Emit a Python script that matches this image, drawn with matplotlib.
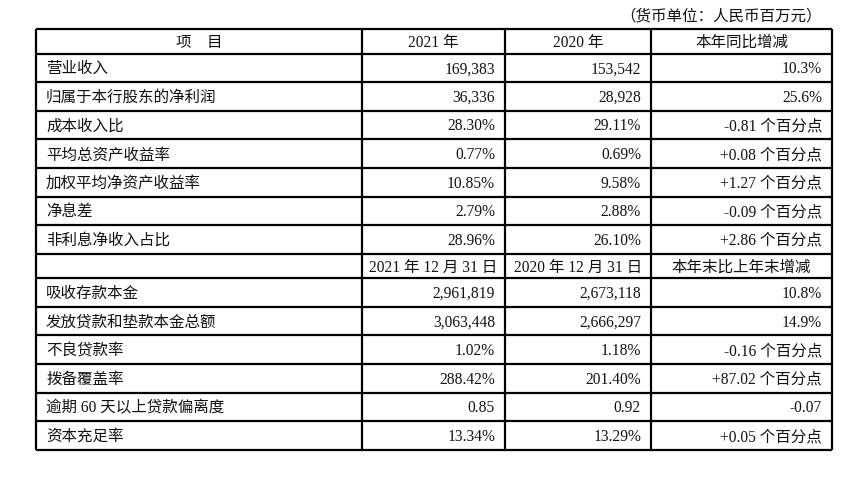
import matplotlib.pyplot as plt

plt.rcParams['font.family'] = ['Liberation Serif', 'Noto Sans CJK SC']

unit_note = '（货币单位：人民币百万元）'
header_1 = ['项　目', '2021 年', '2020 年', '本年同比增减']
items_1 = ['营业收入', '归属于本行股东的净利润', '成本收入比', '平均总资产收益率',
           '加权平均净资产收益率', '净息差', '非利息净收入占比']
val_2021_1 = ['169,383', '36,336', '28.30%', '0.77%', '10.85%', '2.79%', '28.96%']
val_2020_1 = ['153,542', '28,928', '29.11%', '0.69%', '9.58%', '2.88%', '26.10%']
change_1 = ['10.3%', '25.6%', '-0.81 个百分点', '+0.08 个百分点', '+1.27 个百分点',
            '-0.09 个百分点', '+2.86 个百分点']

header_2 = ['', '2021 年 12 月 31 日', '2020 年 12 月 31 日', '本年末比上年末增减']
items_2 = ['吸收存款本金', '发放贷款和垫款本金总额', '不良贷款率', '拨备覆盖率',
           '逾期 60 天以上贷款偏离度', '资本充足率']
val_2021_2 = ['2,961,819', '3,063,448', '1.02%', '288.42%', '0.85', '13.34%']
val_2020_2 = ['2,673,118', '2,666,297', '1.18%', '201.40%', '0.92', '13.29%']
change_2 = ['10.8%', '14.9%', '-0.16 个百分点', '+87.02 个百分点', '-0.07', '+0.05 个百分点']

# layout in pixels
W, H = 864, 481
col_x = [36, 362, 505, 651, 832]
top = 30
head_h = 24.5
row_h = 28.6
fs = 11.2

fig = plt.figure(figsize=(W / 100, H / 100), dpi=100)
ax = fig.add_axes([0, 0, 1, 1])
ax.set_xlim(0, W)
ax.set_ylim(H, 0)
ax.axis('off')

ax.text(col_x[4] - 10, 16, unit_note, ha='right', va='center', fontsize=fs, color='#111111')

# row boundaries
rows = [('head', header_1)]
for i in range(len(items_1)):
    rows.append(('data', [items_1[i], val_2021_1[i], val_2020_1[i], change_1[i]]))
rows.append(('head', header_2))
for i in range(len(items_2)):
    rows.append(('data', [items_2[i], val_2021_2[i], val_2020_2[i], change_2[i]]))

y = top
lines_y = [y]
for kind, cells in rows:
    h = head_h if kind == 'head' else row_h
    yc = y + h / 2 + 0.5
    for j, txt in enumerate(cells):
        if kind == 'head':
            ax.text((col_x[j] + col_x[j + 1]) / 2, yc, txt, ha='center', va='center',
                    fontsize=fs, color='#111111')
        elif j == 0:
            ax.text(col_x[0] + 10, yc, txt, ha='left', va='center', fontsize=fs, color='#111111')
        else:
            ax.text(col_x[j + 1] - 10, yc, txt, ha='right', va='center', fontsize=fs,
                    color='#111111')
    y += h
    lines_y.append(y)

ax.hlines(lines_y, col_x[0], col_x[-1], color='black', lw=1.6)
ax.vlines(col_x, lines_y[0], lines_y[-1], color='black', lw=1.6)

fig.savefig('out.png', dpi=100)
